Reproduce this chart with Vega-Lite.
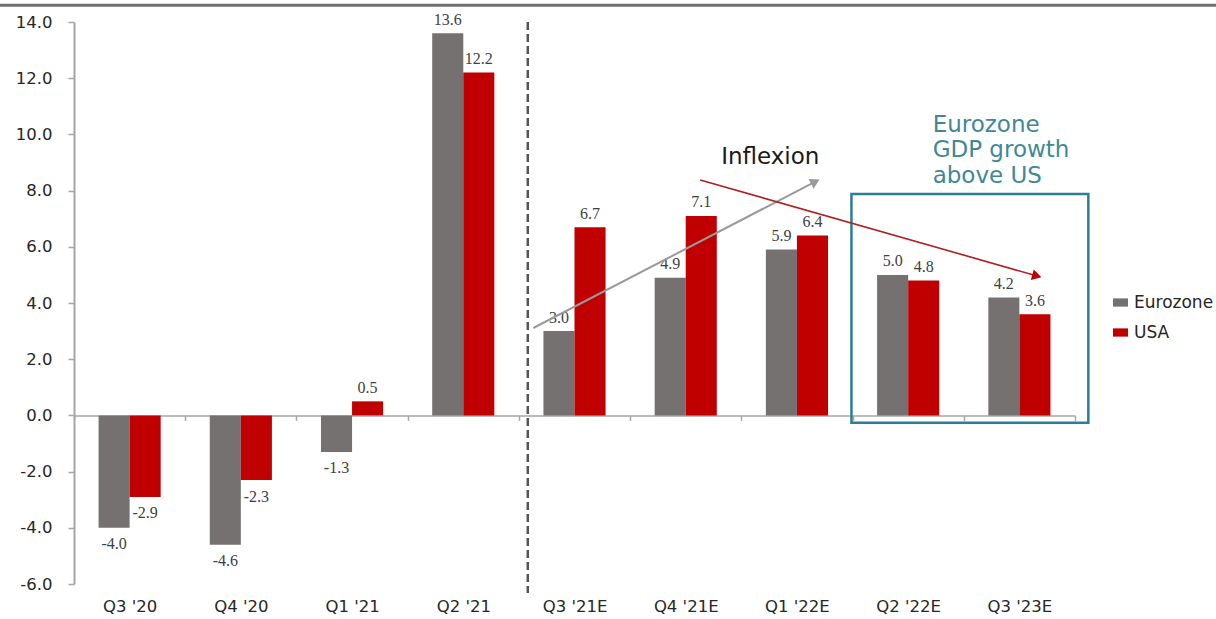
{
  "$schema": "https://vega.github.io/schema/vega-lite/v6.json",
  "width": 1001,
  "height": 562,
  "autosize": {"type": "none"},
  "padding": {"left": 74, "top": 22, "right": 141, "bottom": 35},
  "background": "white",
  "config": {
    "locale": {"number": {"decimal": ".", "thousands": ",", "grouping": [3], "currency": ["$", ""], "minus": "-"}},
    "view": {"stroke": null},
    "axisY": {
      "domainColor": "#a6a6a6", "domainWidth": 2,
      "tickColor": "#a6a6a6", "tickWidth": 1.5, "tickSize": 6,
      "labelPadding": 16, "labelFont": "DejaVu Sans", "labelFontSize": 16.5,
      "labelColor": "#262626", "grid": false
    },
    "axisX": {
      "domainColor": "#a6a6a6", "domainWidth": 1.5,
      "tickColor": "#a6a6a6", "tickWidth": 1.5, "tickSize": 5,
      "labelFont": "DejaVu Sans", "labelFontSize": 16.5, "labelColor": "#262626",
      "grid": false
    }
  },
  "datasets": {
    "gdp": [
      {"quarter": "Q3 '20", "series": "Eurozone", "value": -4.0},
      {"quarter": "Q3 '20", "series": "USA", "value": -2.9},
      {"quarter": "Q4 '20", "series": "Eurozone", "value": -4.6},
      {"quarter": "Q4 '20", "series": "USA", "value": -2.3},
      {"quarter": "Q1 '21", "series": "Eurozone", "value": -1.3},
      {"quarter": "Q1 '21", "series": "USA", "value": 0.5},
      {"quarter": "Q2 '21", "series": "Eurozone", "value": 13.6},
      {"quarter": "Q2 '21", "series": "USA", "value": 12.2},
      {"quarter": "Q3 '21E", "series": "Eurozone", "value": 3.0},
      {"quarter": "Q3 '21E", "series": "USA", "value": 6.7},
      {"quarter": "Q4 '21E", "series": "Eurozone", "value": 4.9},
      {"quarter": "Q4 '21E", "series": "USA", "value": 7.1},
      {"quarter": "Q1 '22E", "series": "Eurozone", "value": 5.9},
      {"quarter": "Q1 '22E", "series": "USA", "value": 6.4},
      {"quarter": "Q2 '22E", "series": "Eurozone", "value": 5.0},
      {"quarter": "Q2 '22E", "series": "USA", "value": 4.8},
      {"quarter": "Q3 '23E", "series": "Eurozone", "value": 4.2},
      {"quarter": "Q3 '23E", "series": "USA", "value": 3.6}
    ]
  },
  "layer": [
    {
      "data": {"name": "gdp"},
      "encoding": {
        "x": {
          "field": "quarter", "type": "nominal", "sort": null,
          "scale": {"paddingInner": 0, "paddingOuter": 0},
          "axis": {
            "title": null, "orient": "bottom", "offset": -168.6,
            "tickBand": "extent", "labelAngle": 0, "labelPadding": 178
          }
        },
        "xOffset": {
          "field": "series", "type": "nominal", "sort": ["Eurozone", "USA"],
          "scale": {"paddingInner": 0, "paddingOuter": 0.79}
        },
        "y": {
          "field": "value", "type": "quantitative",
          "scale": {"domain": [-6, 14], "nice": false, "zero": false},
          "axis": {"title": null, "orient": "left", "values": [-6, -4, -2, 0, 2, 4, 6, 8, 10, 12, 14], "format": ".1f"}
        }
      },
      "layer": [
        {
          "mark": {"type": "bar"},
          "encoding": {
            "color": {
              "field": "series", "type": "nominal",
              "scale": {"domain": ["Eurozone", "USA"], "range": ["#767171", "#C00000"]},
              "legend": {
                "title": null, "orient": "none", "legendX": 1038, "legendY": 272,
                "symbolType": "M-1,-0.55L1,-0.55L1,0.55L-1,0.55Z",
                "symbolSize": 225, "symbolStrokeWidth": 0,
                "labelFont": "DejaVu Sans", "labelFontSize": 17, "labelColor": "#262626",
                "labelOffset": 5, "rowPadding": 12
              }
            }
          }
        },
        {
          "transform": [{"filter": "datum.value >= 0"}],
          "mark": {"type": "text", "baseline": "middle", "dy": -13.5, "font": "Liberation Serif", "fontSize": 16, "color": "#404040"},
          "encoding": {"text": {"field": "value", "type": "quantitative", "format": ".1f"}}
        },
        {
          "transform": [{"filter": "datum.value < 0"}],
          "mark": {"type": "text", "baseline": "middle", "dy": 16.5, "font": "Liberation Serif", "fontSize": 16, "color": "#404040"},
          "encoding": {"text": {"field": "value", "type": "quantitative", "format": ".1f"}}
        }
      ]
    },
    {
      "layer": [
        {
          "data": {"values": [{"x": -0.67, "value": 14.6, "x2": 10.27, "value2": 14.6}]},
          "mark": {"type": "rule", "color": "#707070", "strokeWidth": 3},
          "encoding": {
            "x": {"field": "x", "type": "quantitative", "scale": {"domain": [0, 9], "nice": false, "zero": false}, "axis": null},
            "x2": {"field": "x2"},
            "y": {"field": "value", "type": "quantitative", "scale": {"domain": [-6, 14], "nice": false, "zero": false}},
            "y2": {"field": "value2"}
          }
        },
        {
          "data": {"values": [{"x": 4.08, "value": 14.0, "x2": 4.08, "value2": -6.32}]},
          "mark": {"type": "rule", "color": "#555555", "strokeWidth": 2.5, "strokeDash": [8, 4]},
          "encoding": {
            "x": {"field": "x", "type": "quantitative", "scale": {"domain": [0, 9], "nice": false, "zero": false}, "axis": null},
            "x2": {"field": "x2"},
            "y": {"field": "value", "type": "quantitative", "scale": {"domain": [-6, 14], "nice": false, "zero": false}},
            "y2": {"field": "value2"}
          }
        },
        {
          "data": {"values": [{"x": 6.99, "value": -0.26, "x2": 9.12, "value2": 7.88}]},
          "mark": {"type": "rect", "fill": "white", "fillOpacity": 0, "stroke": "#2c7f90", "strokeWidth": 2.5},
          "encoding": {
            "x": {"field": "x", "type": "quantitative", "scale": {"domain": [0, 9], "nice": false, "zero": false}, "axis": null},
            "x2": {"field": "x2"},
            "y": {"field": "value", "type": "quantitative", "scale": {"domain": [-6, 14], "nice": false, "zero": false}},
            "y2": {"field": "value2"}
          }
        },
        {
          "data": {"values": [{"x": 4.13, "value": 3.11, "x2": 6.67, "value2": 8.33}]},
          "mark": {"type": "rule", "color": "#9a9a9a", "strokeWidth": 2},
          "encoding": {
            "x": {"field": "x", "type": "quantitative", "scale": {"domain": [0, 9], "nice": false, "zero": false}, "axis": null},
            "x2": {"field": "x2"},
            "y": {"field": "value", "type": "quantitative", "scale": {"domain": [-6, 14], "nice": false, "zero": false}},
            "y2": {"field": "value2"}
          }
        },
        {
          "data": {"values": [{"x": 6.665, "value": 8.32}]},
          "mark": {"type": "point", "shape": "triangle-up", "filled": true, "color": "#9a9a9a", "opacity": 1, "size": 120, "angle": 62.6},
          "encoding": {
            "x": {"field": "x", "type": "quantitative", "scale": {"domain": [0, 9], "nice": false, "zero": false}, "axis": null},
            "y": {"field": "value", "type": "quantitative", "scale": {"domain": [-6, 14], "nice": false, "zero": false}}
          }
        },
        {
          "data": {"values": [{"x": 5.63, "value": 8.38, "x2": 8.66, "value2": 4.96}]},
          "mark": {"type": "rule", "color": "#b01e1e", "strokeWidth": 1.6},
          "encoding": {
            "x": {"field": "x", "type": "quantitative", "scale": {"domain": [0, 9], "nice": false, "zero": false}, "axis": null},
            "x2": {"field": "x2"},
            "y": {"field": "value", "type": "quantitative", "scale": {"domain": [-6, 14], "nice": false, "zero": false}},
            "y2": {"field": "value2"}
          }
        },
        {
          "data": {"values": [{"x": 8.657, "value": 4.96}]},
          "mark": {"type": "point", "shape": "triangle-up", "filled": true, "color": "#C00000", "opacity": 1, "size": 120, "angle": 105.9},
          "encoding": {
            "x": {"field": "x", "type": "quantitative", "scale": {"domain": [0, 9], "nice": false, "zero": false}, "axis": null},
            "y": {"field": "value", "type": "quantitative", "scale": {"domain": [-6, 14], "nice": false, "zero": false}}
          }
        },
        {
          "data": {"values": [{"x": 6.26, "value": 9.18, "label": "Inflexion"}]},
          "mark": {"type": "text", "font": "DejaVu Sans", "fontSize": 23, "color": "#1a1a1a", "align": "center", "baseline": "middle"},
          "encoding": {
            "x": {"field": "x", "type": "quantitative", "scale": {"domain": [0, 9], "nice": false, "zero": false}, "axis": null},
            "y": {"field": "value", "type": "quantitative", "scale": {"domain": [-6, 14], "nice": false, "zero": false}},
            "text": {"field": "label"}
          }
        },
        {
          "data": {"values": [
            {"x": 7.72, "value": 10.34, "label": "Eurozone"},
            {"x": 7.72, "value": 9.45, "label": "GDP growth"},
            {"x": 7.72, "value": 8.52, "label": "above US"}
          ]},
          "mark": {"type": "text", "font": "DejaVu Sans", "fontSize": 23, "color": "#3f8896", "align": "left", "baseline": "middle"},
          "encoding": {
            "x": {"field": "x", "type": "quantitative", "scale": {"domain": [0, 9], "nice": false, "zero": false}, "axis": null},
            "y": {"field": "value", "type": "quantitative", "scale": {"domain": [-6, 14], "nice": false, "zero": false}},
            "text": {"field": "label"}
          }
        }
      ]
    }
  ],
  "resolve": {"scale": {"x": "independent"}}
}
